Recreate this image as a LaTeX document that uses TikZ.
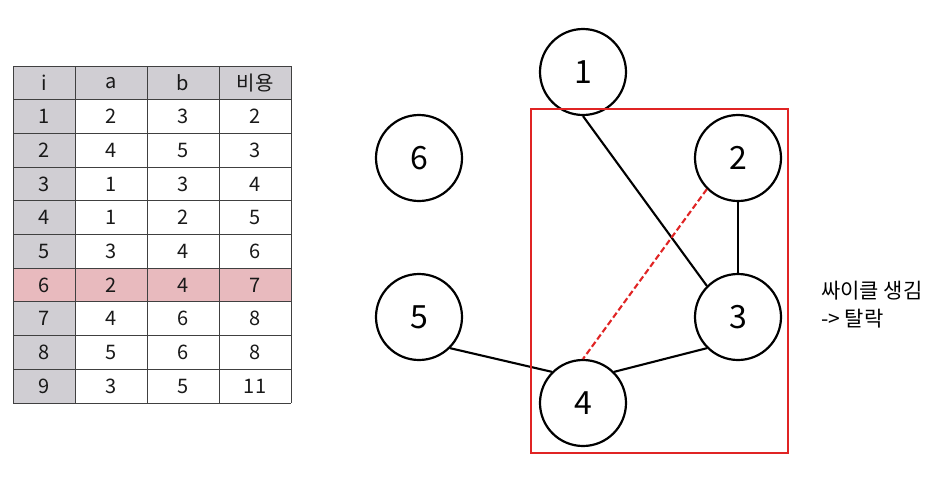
\documentclass[tikz,border=0pt]{standalone}
\usepackage{fontspec}
\setmainfont{Noto Sans CJK KR}
\definecolor{hdrgray}{HTML}{D0CED3}
\definecolor{pinkrow}{HTML}{E8BABE}
\definecolor{boxred}{HTML}{E02424}
\definecolor{gridc}{HTML}{404040}
\tikzset{
  cell/.style={inner sep=0pt, text=black!90, font=\fontsize{20}{24}\selectfont},
  vtx/.style={circle, draw=black, line width=2.2pt, minimum size=86pt, inner sep=0pt, font=\fontsize{32}{38}\selectfont},
  edge/.style={line width=2.1pt, black},
  redge/.style={line width=2.1pt, boxred, dash pattern=on 6pt off 3pt},
  redbox/.style={line width=2.2pt, draw=boxred},
  gridline/.style={line width=0.9pt, draw=gridc},
  note/.style={inner sep=0pt, anchor=base west, font=\fontsize{21}{24}\selectfont}
}
\begin{document}
\begin{tikzpicture}[x=1pt,y=-1pt]
\useasboundingbox (0,0) rectangle (936,477);
% table fills
\fill[hdrgray] (13,66) rectangle (291,99.7);
\fill[hdrgray] (13,99.7) rectangle (75,403);
\fill[pinkrow] (13,268.2) rectangle (291,301.9);
% grid
\foreach \k in {0,...,10} {
  \pgfmathsetmacro\yy{66+33.7*\k}
  \draw[gridline] (13,\yy) -- (291,\yy);
}
\foreach \xx in {13,75,147,219,291} {
  \draw[gridline] (\xx,66) -- (\xx,403);
}
% table text
\foreach \ci/\ca/\cb/\cc [count=\k from 0] in {i/a/b/비용, 1/2/3/2, 2/4/5/3, 3/1/3/4, 4/1/2/5, 5/3/4/6, 6/2/4/7, 7/4/6/8, 8/5/6/8, 9/3/5/11} {
  \pgfmathsetmacro\yc{66+33.7*\k+16.85}
  \node[cell] (t-\k-0) at (44,\yc) {\ci};
  \node[cell] (t-\k-1) at (111,\yc) {\ca};
  \node[cell] (t-\k-2) at (183,\yc) {\cb};
  \node[cell] (t-\k-3) at (255,\yc) {\cc};
}
% graph nodes
\node[vtx] (n1) at (583,72) {1};
\node[vtx] (n6) at (419,158) {6};
\node[vtx] (n2) at (738,158) {2};
\node[vtx] (n5) at (419,317) {5};
\node[vtx] (n3) at (738,317) {3};
\node[vtx] (n4) at (583,403) {4};
% edges
\draw[edge] (n1.-90) -- (n3.135);
\draw[edge] (n2.south) -- (n3.north);
\draw[edge] (n5.-45) -- (n4.135);
\draw[edge] (n4.45) -- (n3.225);
\draw[redge] (n2.225) -- (n4.90);
% red box
\draw[redbox] (531,109) rectangle (788,453);
% note
\node[note] (note1) at (821,298) {싸이클 생김};
\node[note] (note2) at (821,326) {-> 탈락};
\end{tikzpicture}
\end{document}
